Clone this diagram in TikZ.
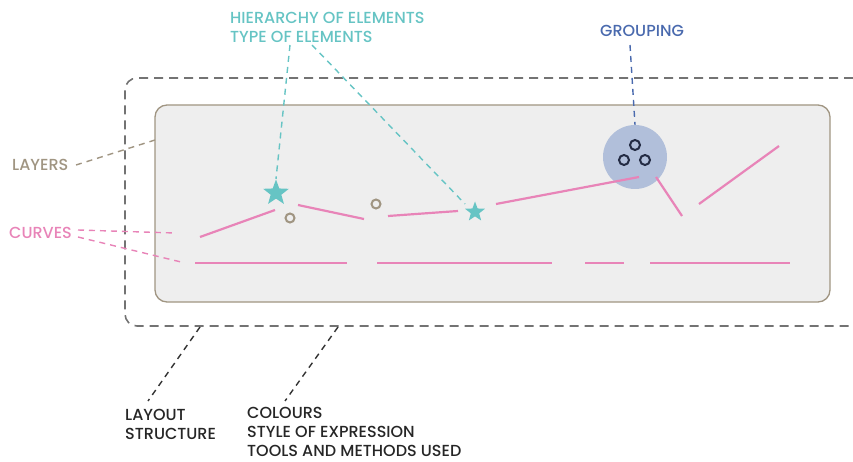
\documentclass[tikz,border=0pt]{standalone}
\usepackage{fontspec}
\setmainfont{Poppins}[UprightFont=* Medium]
\usetikzlibrary{shapes.geometric, positioning}

\definecolor{tealc}{HTML}{66C4C4}
\definecolor{pinky}{HTML}{E884B8}
\definecolor{taupe}{HTML}{A09582}
\definecolor{groupblue}{HTML}{4A6AAE}
\definecolor{groupfill}{HTML}{B1BFDA}
\definecolor{navy}{HTML}{242C44}
\definecolor{panel}{HTML}{EEEEEE}

\begin{document}
\begin{tikzpicture}[x=1pt, y=-1pt, every node/.style={font=\fontsize{16}{19}\selectfont, align=left, inner sep=0pt},
  lbl/.style={dash pattern=on 6pt off 5pt, line width=1.4pt},
  curve/.style={pinky, line width=2.2pt},
  dot/.style={circle, draw=taupe, line width=2pt, minimum size=9pt}]

\useasboundingbox (0,0) rectangle (853,462);

% Frames
\draw[black!55, dash pattern=on 9pt off 6pt, line width=1.6pt, rounded corners=12pt]
  (853,78) -- (125,78) -- (125,326) -- (853,326);
\draw[taupe, fill=panel, line width=1.3pt, rounded corners=12pt] (155,105) rectangle (830,302);

% Nodes
\node (grp) [circle, fill=groupfill, minimum size=64pt] at (635,157) {};
\foreach \p/\q in {635/145, 624/160, 645/160}
  \node [circle, draw=navy, line width=2pt, minimum size=10pt] at (\p,\q) {};
\node (s1) [star, star points=5, star point ratio=2.4, fill=tealc, minimum size=27pt] at (276,193) {};
\node (s2) [star, star points=5, star point ratio=2.4, fill=tealc, minimum size=21pt] at (475,212) {};
\node (d1) [dot] at (290,218) {};
\node (d2) [dot] at (376,204) {};

\node (hier) [tealc, anchor=base west] at (230,43) {HIERARCHY OF ELEMENTS\\TYPE OF ELEMENTS};
\node (group) [groupblue, anchor=base west] at (600,37) {GROUPING};
\node (layers) [taupe, anchor=base west] at (12,171) {LAYERS};
\node (curves) [pinky, anchor=base west] at (9,238) {CURVES};
\node (layout) [anchor=base west, text=black!85, text depth=0pt] at (125,439) {LAYOUT\\STRUCTURE};
\node (colours) [anchor=base west, text=black!85, text depth=0pt] at (247,456) {COLOURS\\STYLE OF EXPRESSION\\TOOLS AND METHODS USED};

% Leader ends
\coordinate (hA) at (290,45);
\coordinate (hB) at (312,45);
\coordinate (s2t) at (465,204);
\coordinate (gA) at (630,45);
\coordinate (lyA) at (76,165);
\coordinate (lyB) at (155,140);
\coordinate (cA) at (78,230);
\coordinate (cB) at (175,233);
\coordinate (cC) at (78,237);
\coordinate (cD) at (181,262);
\coordinate (loA) at (200,327);
\coordinate (loB) at (148,401);
\coordinate (coA) at (338,327);
\coordinate (coB) at (285,401);

% Curves
\draw[curve] (200,237) -- (275,210);
\draw[curve] (298,205) -- (364,219);
\draw[curve] (388,216) -- (458,211);
\draw[curve] (496,204) -- (639,177);
\draw[curve] (656,177) -- (682,216);
\draw[curve] (699,204) -- (779,146);
\foreach \a/\b in {195/347, 377/552, 585/624, 650/790}
  \draw[curve] (\a,263) -- (\b,263);

% Leaders
\draw[lbl, tealc] (hA) -- (s1.north);
\draw[lbl, tealc] (hB) -- (s2t);
\draw[lbl, groupblue] (gA) -- (grp.north);
\draw[lbl, taupe] (lyA) -- (lyB);
\draw[lbl, pinky] (cA) -- (cB);
\draw[lbl, pinky] (cC) -- (cD);
\draw[lbl, black!80] (loA) -- (loB);
\draw[lbl, black!80] (coA) -- (coB);

\end{tikzpicture}
\end{document}
